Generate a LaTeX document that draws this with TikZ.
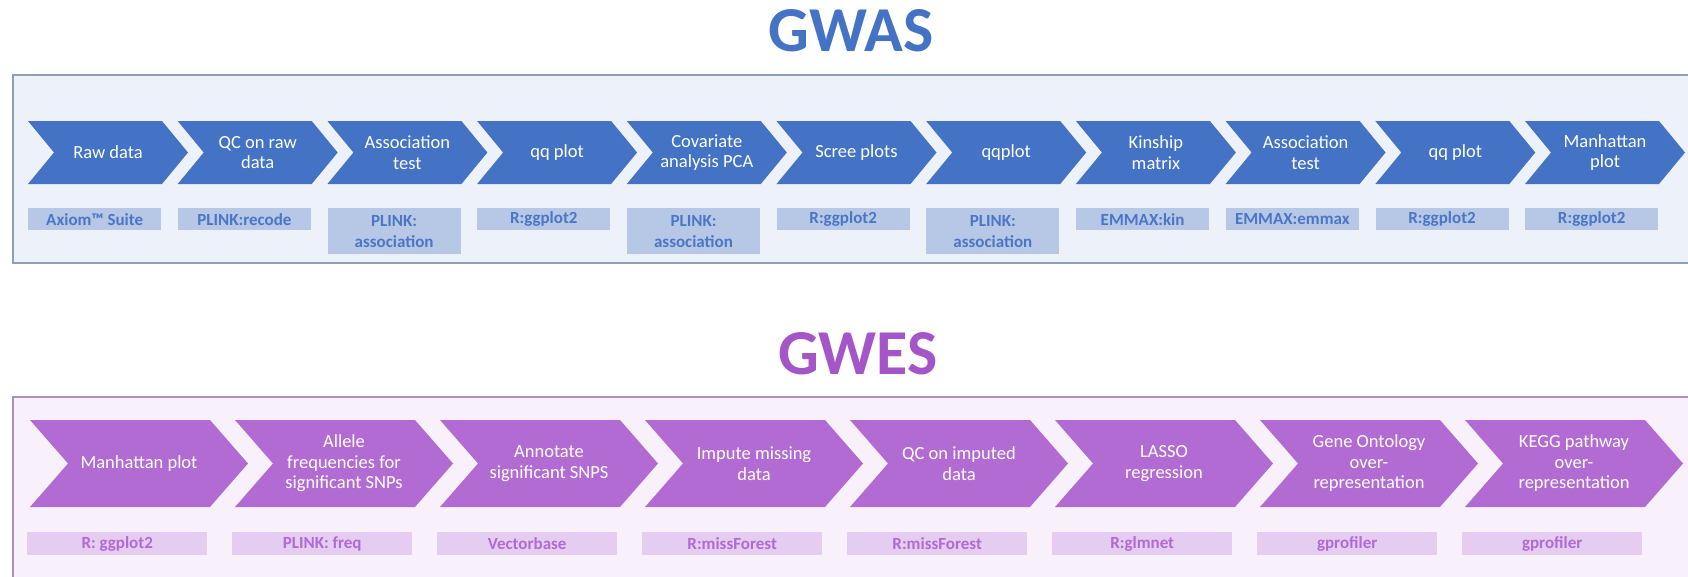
\documentclass[tikz,border=0pt]{standalone}
\usepackage{fontspec}
\setmainfont{Carlito}
\definecolor{gwblue}{HTML}{4472C4}
\definecolor{gwbg}{HTML}{EDF1F9}
\definecolor{gwborder}{HTML}{8E9DB8}
\definecolor{gwlab}{HTML}{B7C8E6}
\definecolor{gwlabtxt}{HTML}{4A76C6}
\definecolor{gepurple}{HTML}{B36BD4}
\definecolor{getitle}{HTML}{A456C9}
\definecolor{gebg}{HTML}{F8F0FB}
\definecolor{geborder}{HTML}{A795B3}
\definecolor{gelab}{HTML}{E4CDF1}
\definecolor{gelabtxt}{HTML}{B169D3}
\begin{document}
\begin{tikzpicture}[x=1pt,y=-1pt,
  titletext/.style={font=\fontsize{64}{70}\selectfont\bfseries,inner sep=0pt},
  chevtext/.style={text=white,align=center,font=\fontsize{18.5}{20.5}\selectfont,inner sep=0pt},
  gwframe/.style={draw=gwborder,fill=gwbg,line width=2pt},
  geframe/.style={draw=geborder,fill=gebg,line width=2pt},
  gwlabel/.style={fill=gwlab,text=gwlabtxt,align=center,anchor=north west,inner sep=0pt,
    minimum width=133pt,font=\fontsize{17}{21}\selectfont\bfseries},
  gelabel/.style={fill=gelab,text=gelabtxt,align=center,anchor=north west,inner sep=0pt,
    minimum width=180pt,minimum height=23pt,font=\fontsize{17}{21}\selectfont\bfseries}]
\useasboundingbox (0,0) rectangle (1688,576);
\fill[white] (0,0) rectangle (1688,576);

% ---------------- GWAS ----------------
\node[titletext,text=gwblue] (tgwas) at (851,31) {GWAS};
\draw[gwframe] (13,75) rectangle (1720,263);
\foreach \txt/\lab/\h [count=\i from 0] in {
  {Raw data}/{Axiom™ Suite}/22,
  {QC on raw\\data}/{PLINK:recode}/22,
  {Association\\test}/{PLINK:\\association}/46,
  {qq plot}/{R:ggplot2}/22,
  {Covariate\\analysis PCA}/{PLINK:\\association}/46,
  {Scree plots}/{R:ggplot2}/22,
  {qqplot}/{PLINK:\\association}/46,
  {Kinship\\matrix}/{EMMAX:kin}/22,
  {Association\\test}/{EMMAX:emmax}/22,
  {qq plot}/{R:ggplot2}/22,
  {Manhattan\\plot}/{R:ggplot2}/22}{
  \pgfmathsetmacro\L{28+149.7*\i}
  \fill[gwblue] (\L,121) -- ++(134,0) -- ++(26,31.5) -- ++(-26,31.5) -- ++(-134,0) -- ++(26,-31.5) -- cycle;
  \node[chevtext] (ga\i) at (\L+80,152.5) {\txt};
  \node[gwlabel,minimum height=\h pt] (gl\i) at (\L,208) {\lab};
}

% ---------------- GWES ----------------
\node[titletext,text=getitle] (tgwes) at (858,354) {GWES};
\draw[geframe] (13,397) rectangle (1720,600);
\foreach \txt/\lab [count=\i from 0] in {
  {Manhattan plot}/{R: ggplot2},
  {Allele\\frequencies for\\significant SNPs}/{PLINK: freq},
  {Annotate\\significant SNPS}/{Vectorbase},
  {Impute missing\\data}/{R:missForest},
  {QC on imputed\\data}/{R:missForest},
  {LASSO\\regression}/{R:glmnet},
  {Gene Ontology\\over-\\representation}/{gprofiler},
  {KEGG pathway\\over-\\representation}/{gprofiler}}{
  \pgfmathsetmacro\L{30+205*\i}
  \fill[gepurple] (\L,420) -- ++(180,0) -- ++(38,43.5) -- ++(-38,43.5) -- ++(-180,0) -- ++(38,-43.5) -- cycle;
  \node[chevtext] (ge\i) at (\L+109,463.5) {\txt};
  \node[gelabel] (gel\i) at (\L-3,532) {\lab};
}
\end{tikzpicture}
\end{document}
